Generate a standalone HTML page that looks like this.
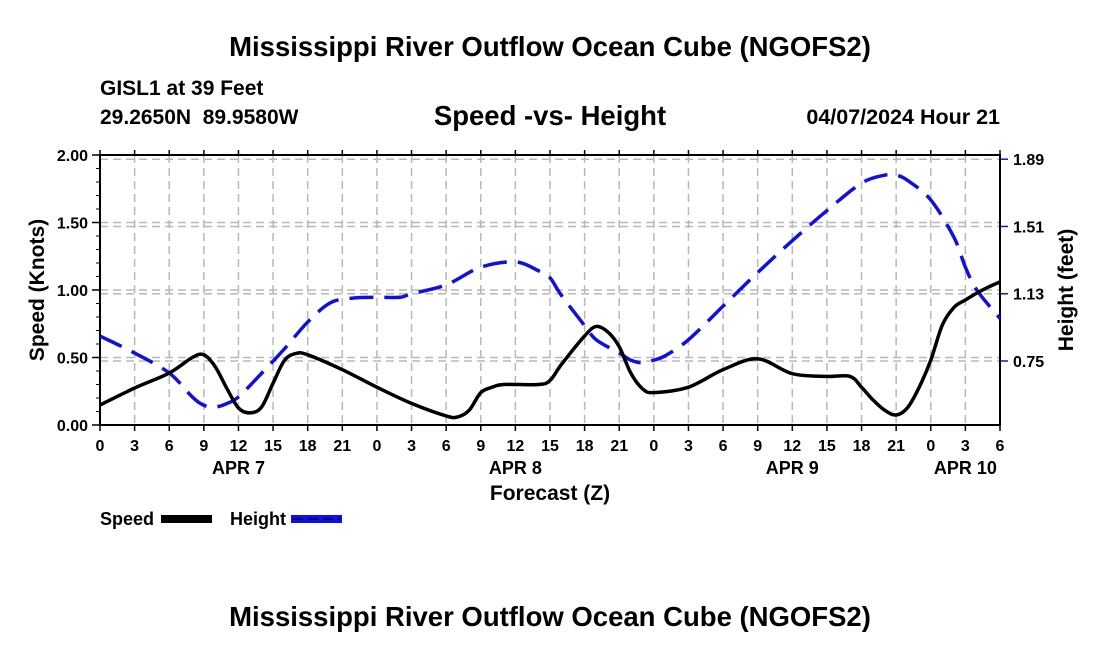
<!DOCTYPE html>
<html><head><meta charset="utf-8"><style>
html,body{margin:0;padding:0;background:#fff;}
svg{display:block;font-family:"Liberation Sans",Arial,sans-serif;font-weight:bold;}
</style></head><body>
<svg id="chart" width="1100" height="650" viewBox="0 0 1100 650">
<text x="550" y="56" font-size="27.5" text-anchor="middle">Mississippi River Outflow Ocean Cube (NGOFS2)</text>
<text x="100" y="95" font-size="21">GISL1 at 39 Feet</text>
<text x="100" y="124" font-size="21" xml:space="preserve" style="white-space:pre">29.2650N  89.9580W</text>
<text x="550" y="125" font-size="27.5" text-anchor="middle">Speed -vs- Height</text>
<text x="1000" y="124" font-size="21.5" text-anchor="end">04/07/2024 Hour 21</text>
<g id="grid"></g>
<g id="axes"></g>
<g id="series"></g>
<text x="550" y="500" font-size="21" text-anchor="middle">Forecast (Z)</text>
<text transform="translate(44,290) rotate(-90)" font-size="21" text-anchor="middle">Speed (Knots)</text>
<text transform="translate(1073,290) rotate(-90)" font-size="21" text-anchor="middle">Height (feet)</text>
<g>
<text x="100" y="525" font-size="18">Speed</text>
<rect x="161" y="515" width="51" height="8" fill="#000"/>
<text x="230" y="525" font-size="18">Height</text>
<rect x="291" y="515" width="51" height="8" fill="#1010e0"/>
<line x1="293" y1="519" x2="340" y2="519" stroke="#000060" stroke-width="1.5" stroke-dasharray="10,5"/>
</g>
<text x="550" y="626" font-size="27.5" text-anchor="middle">Mississippi River Outflow Ocean Cube (NGOFS2)</text>
</svg>
<script>
const xTickLabels=["0","3","6","9","12","15","18","21","0","3","6","9","12","15","18","21","0","3","6","9","12","15","18","21","0","3","6"];
const dayLabels=["APR 7","APR 8","APR 9","APR 10"];
const dayLabelHours=[12,36,60,75];
const leftTicks=[0,0.5,1.0,1.5,2.0];
const rightTicks=[0.75,1.13,1.51,1.89];
const speedHours=[0,3,6,8,9,10,11,12,13,14,15,16,17,18,21,24,27,30,31,32,33,34,35,38,39,40,42,43,44,45,46,47,48,51,54,57,60,63,65,66,67,68,69,70,71,72,73,74,75,76,77,78];
const speedVals=[0.148,0.274,0.385,0.50,0.52,0.43,0.27,0.126,0.09,0.133,0.31,0.48,0.53,0.52,0.41,0.28,0.16,0.067,0.06,0.11,0.24,0.28,0.30,0.30,0.33,0.45,0.66,0.73,0.69,0.58,0.385,0.27,0.24,0.28,0.41,0.49,0.38,0.36,0.36,0.28,0.185,0.11,0.074,0.13,0.28,0.48,0.74,0.87,0.926,0.978,1.022,1.06];
const heightHours=[0,3,6,8,9,10,11,12,14,16,18,20,22,24,26,27,30,33,36,38,39,40,42,43,45,46,47,48,49,51,54,57,60,63,66,68,69,70,72,74,75,76,78];
const heightVals=[0.891,0.795,0.682,0.547,0.50,0.49,0.51,0.547,0.68,0.82,0.97,1.08,1.106,1.11,1.11,1.13,1.18,1.28,1.31,1.26,1.22,1.12,0.95,0.87,0.795,0.755,0.74,0.755,0.78,0.87,1.06,1.25,1.43,1.60,1.755,1.80,1.80,1.77,1.66,1.45,1.28,1.15,0.99];

const X0=100,X1=1000,Y0=425,Y1=155;
const x=h=>X0+(X1-X0)*h/78;
const yL=v=>Y0-(Y0-Y1)*v/2;
const yR=v=>361-(v-0.75)*177;
const NS="http://www.w3.org/2000/svg";
function mk(tag,attrs,parent){const e=document.createElementNS(NS,tag);for(const k in attrs)e.setAttribute(k,attrs[k]);parent.appendChild(e);return e;}
const grid=document.getElementById('grid'),axes=document.getElementById('axes'),series=document.getElementById('series');

xTickLabels.forEach((t,i)=>{const h=i*3;
 if(i>0&&i<xTickLabels.length-1){const g=mk('line',{x1:x(h),x2:x(h),y1:Y1,y2:Y0,stroke:'#b8b8b8','stroke-width':1.5,'stroke-dasharray':'8,5'},grid);
 
 }
 const tk=mk('line',{x1:x(h),x2:x(h),y1:Y0,y2:Y0+6,stroke:'#000','stroke-width':1.5},axes);
 
 
 const tt=mk('line',{x1:x(h),x2:x(h),y1:Y1-5,y2:Y1,stroke:'#000','stroke-width':1.5},axes);
 
 
 const lb=mk('text',{x:x(h),y:Y0+26,'font-size':16,'text-anchor':'middle'},axes);lb.textContent=t;
 
 
});
dayLabels.forEach((d,i)=>{const t=mk('text',{x:x(dayLabelHours[i]),y:Y0+49,'font-size':18,'text-anchor':'middle'},axes);t.textContent=d;
 
 });
leftTicks.forEach(v=>{const y=yL(v);
 if(v>0){const g=mk('line',{x1:X0,x2:X1,y1:y,y2:y,stroke:'#b8b8b8','stroke-width':1.5,'stroke-dasharray':'8,5'},grid);
 
 }
 const tk=mk('line',{x1:X0-8,x2:X0,y1:y,y2:y,stroke:'#000','stroke-width':1.5},axes);
 
 
 const lb=mk('text',{x:X0-12,y:y+6,'font-size':16,'text-anchor':'end'},axes);lb.textContent=v.toFixed(2);
 
 });
for(let v=0.1;v<2;v+=0.1){const y=yL(v);const m=mk('line',{x1:X0-4,x2:X0,y1:y,y2:y,stroke:'#000','stroke-width':1},axes);
 
 }
rightTicks.forEach(v=>{const y=yR(v);
 const g=mk('line',{x1:X0,x2:X1,y1:y,y2:y,stroke:'#b8b8b8','stroke-width':1.5,'stroke-dasharray':'8,5'},grid);
 
 
 const tk=mk('line',{x1:X1,x2:X1+8,y1:y,y2:y,stroke:'#1010e0','stroke-width':1.5},axes);
 
 
 const lb=mk('text',{x:X1+13,y:y+6,'font-size':16},axes);lb.textContent=v.toFixed(2);
 
 });
const fr=mk('rect',{x:X0,y:Y1,width:X1-X0,height:Y0-Y1,fill:'none',stroke:'#000','stroke-width':2},axes);



function smooth(pts){let d='M'+pts[0][0]+','+pts[0][1];
 for(let i=0;i<pts.length-1;i++){const p0=pts[Math.max(0,i-1)],p1=pts[i],p2=pts[i+1],p3=pts[Math.min(pts.length-1,i+2)];
 const c1=[p1[0]+(p2[0]-p0[0])/6,p1[1]+(p2[1]-p0[1])/6],c2=[p2[0]-(p3[0]-p1[0])/6,p2[1]-(p3[1]-p1[1])/6];
 d+=' C'+c1.join(',')+' '+c2.join(',')+' '+p2.join(',');}return d;}
const hp=mk('path',{d:smooth(heightHours.map((h,i)=>[x(h),yR(heightVals[i])])),fill:'none',stroke:'#1010e0','stroke-width':3.5,'stroke-dasharray':'24,11'},series);


const sp=mk('path',{d:smooth(speedHours.map((h,i)=>[x(h),yL(speedVals[i])])),fill:'none',stroke:'#000','stroke-width':3.5,'stroke-linejoin':'round'},series);


</script>
</body></html>
